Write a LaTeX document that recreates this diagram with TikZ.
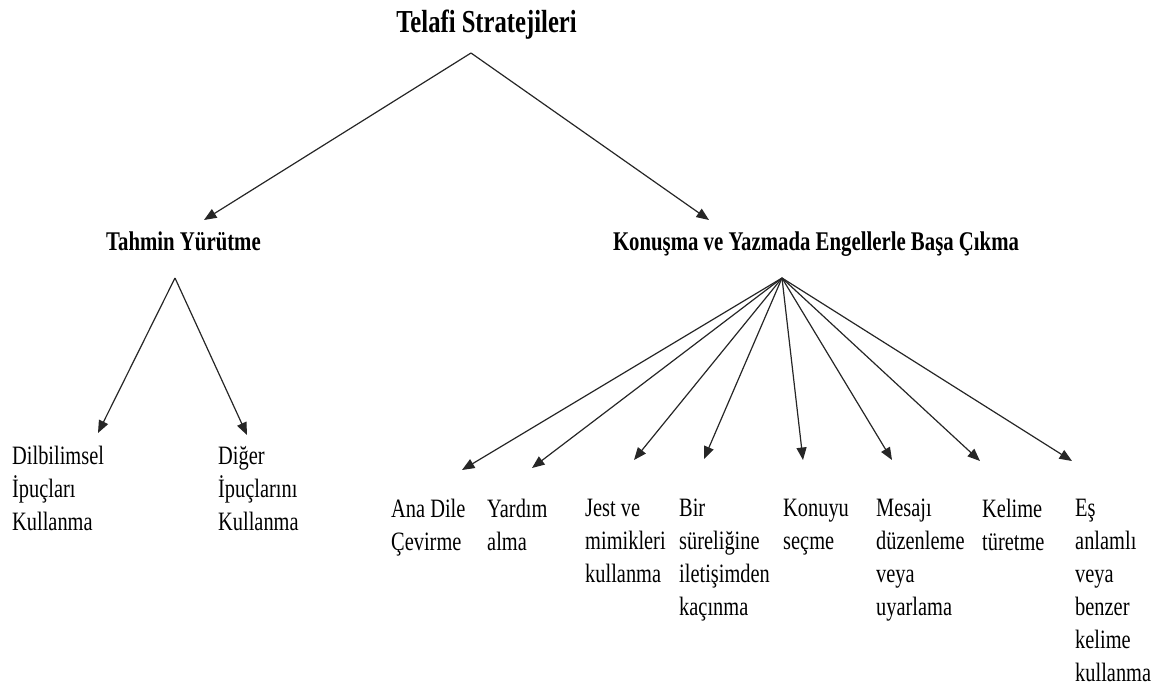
\documentclass[tikz,border=0pt]{standalone}
\usepackage{fontspec}
\setmainfont{Liberation Serif}[FakeStretch=0.77]
\usetikzlibrary{arrows.meta}
\begin{document}
\begin{tikzpicture}[x=1pt,y=-1pt,
  conn/.style={draw=black!85, line width=1.2pt, -{Triangle[length=12.5pt,width=10pt]}},
  titlef/.style={font=\fontsize{32}{38}\selectfont\bfseries, inner sep=0pt, anchor=base},
  headf/.style={font=\fontsize{27}{33}\selectfont\bfseries, inner sep=0pt, anchor=base},
  leaf/.style={font=\fontsize{26.5}{33}\selectfont, inner sep=0pt, anchor=north west, align=left}]
\useasboundingbox (0,0) rectangle (1168,691);

\node[titlef] (title) at (486.5,32) {Telafi Stratejileri};
\node[headf] (tahmin) at (183.5,250) {Tahmin Yürütme};
\node[headf] (konusma) at (816,250) {Konuşma ve Yazmada Engellerle Başa Çıkma};

\node[leaf] (dil) at (12,446) {Dilbilimsel\\İpuçları\\Kullanma};
\node[leaf] (diger) at (218,446) {Diğer\\İpuçlarını\\Kullanma};

\node[leaf] (ana) at (391,499) {Ana Dile\\Çevirme};
\node[leaf] (yardim) at (487,499) {Yardım\\alma};
\node[leaf] (jest) at (585,499) {Jest ve\\mimikleri\\kullanma};
\node[leaf] (bir) at (679,499) {Bir\\süreliğine\\iletişimden\\kaçınma};
\node[leaf] (konuyu) at (783,499) {Konuyu\\seçme};
\node[leaf] (mesaji) at (876,499) {Mesajı\\düzenleme\\veya\\uyarlama};
\node[leaf] (kelime) at (982,499) {Kelime\\türetme};
\node[leaf] (es) at (1075,499) {Eş\\anlamlı\\veya\\benzer\\kelime\\kullanma};

\coordinate (a0) at (471,53);
\coordinate (a1) at (175,278);
\coordinate (a2) at (782,278);

\coordinate (p1) at (204,220);
\coordinate (p2) at (709,220);
\coordinate (q1) at (98,433);
\coordinate (q2) at (247,435);
\coordinate (r1) at (462,470);
\coordinate (r2) at (532,468);
\coordinate (r3) at (634,460);
\coordinate (r4) at (704,459);
\coordinate (r5) at (803,460);
\coordinate (r6) at (892,460);
\coordinate (r7) at (980,461);
\coordinate (r8) at (1072,461);

\draw[conn] (a0) -- (p1);
\draw[conn] (a0) -- (p2);
\draw[conn] (a1) -- (q1);
\draw[conn] (a1) -- (q2);
\foreach \t in {r1,r2,r3,r4,r5,r6,r7,r8} {\draw[conn] (a2) -- (\t);}
\end{tikzpicture}
\end{document}
